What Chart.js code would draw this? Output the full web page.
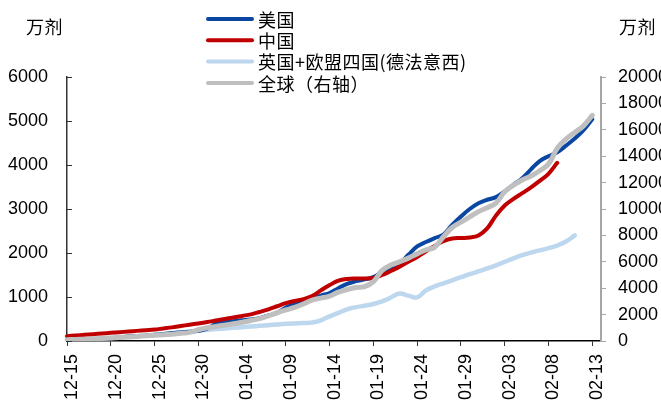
<!DOCTYPE html>
<html>
<head>
<meta charset="utf-8">
<script src="https://cdn.jsdelivr.net/npm/chart.js@4"></script>
<style>
  html, body { margin: 0; padding: 0; background: #fff; overflow: hidden; }
  #wrap { width: 661px; height: 403px; }
</style>
</head>
<body>
<div id="wrap"><canvas id="vacc" width="661" height="403"></canvas></div>
<script>
// days from 12-15 to 02-14
const dates = [
  '12-15','12-16','12-17','12-18','12-19','12-20','12-21','12-22','12-23','12-24',
  '12-25','12-26','12-27','12-28','12-29','12-30','12-31','01-01','01-02','01-03',
  '01-04','01-05','01-06','01-07','01-08','01-09','01-10','01-11','01-12','01-13',
  '01-14','01-15','01-16','01-17','01-18','01-19','01-20','01-21','01-22','01-23',
  '01-24','01-25','01-26','01-27','01-28','01-29','01-30','01-31','02-01','02-02',
  '02-03','02-04','02-05','02-06','02-07','02-08','02-09','02-10','02-11','02-12',
  '02-13','02-14'
];

// 万剂, left axis
const usDoses = [
  5, 10, 20, 30, 45, 60, 80, 100, 110, 120,
  140, 160, 180, 200, 210, 230, 280, 390, 430, 450,
  470, 490, 520, 580, 640, 760, 830, 900, 950, 1030,
  1090, 1200, 1300, 1360, 1400, 1450, 1560, 1650, 1760, 1960,
  2150, 2250, 2340, 2420, 2640, 2830, 3000, 3130, 3210, 3270,
  3400, 3550, 3700, 3900, 4090, 4200, 4290, 4440, 4600, 4790,
  5040
];
const chinaDoses = [
  110, 125, 140, 155, 170, 185, 200, 215, 230, 245,
  260, 285, 310, 340, 370, 400, 430, 465, 500, 535,
  570, 605, 660, 720, 790, 860, 910, 950, 1020, 1150,
  1270, 1370, 1410, 1420, 1420, 1430, 1500, 1590, 1690, 1800,
  1910, 2040, 2160, 2270, 2330, 2340, 2350, 2400, 2560, 2850,
  3080, 3230, 3360, 3490, 3640, 3800, 4050
];
const ukEu4Doses = [
  20, 30, 40, 50, 60, 70, 80, 95, 110, 125,
  140, 155, 170, 190, 210, 240, 255, 270, 285, 300,
  315, 330, 345, 360, 375, 390, 400, 410, 420, 470,
  560, 640, 720, 770, 800, 840, 900, 990, 1080, 1030,
  990, 1150, 1240, 1310, 1380, 1450, 1520, 1580, 1650, 1720,
  1800, 1880, 1950, 2010, 2060, 2110, 2170, 2260, 2400
];
// 万剂, right axis
const globalDoses = [
  100, 120, 140, 160, 190, 230, 270, 310, 350, 390,
  430, 470, 520, 580, 650, 850, 1000, 1100, 1200, 1300,
  1420, 1550, 1700, 1900, 2150, 2350, 2550, 2800, 3100, 3250,
  3400, 3700, 3900, 4050, 4120, 4500, 5350, 5750, 6000, 6280,
  6600, 6900, 7100, 7900, 8600, 9000, 9400, 9800, 10100, 10450,
  11300, 11800, 12200, 12500, 12900, 13400, 14600, 15300, 15800, 16300,
  17100
];

const seriesNames = ['美国', '中国', '英国+欧盟四国(德法意西)', '全球（右轴）'];
const seriesColors = ['#0a47a3', '#c00000', '#bdd7ee', '#bfbfbf'];

Chart.defaults.font.family = "'Liberation Sans', Arial, sans-serif";
Chart.defaults.font.size = 18;
Chart.defaults.color = '#000';

const cjkFont = "18px 'Noto Sans CJK SC', sans-serif";

// vertical legend and unit captions
const decorPlugin = {
  id: 'decor',
  afterDraw(chart) {
    const { ctx } = chart;
    ctx.save();
    ctx.font = cjkFont;
    ctx.fillStyle = '#000';
    ctx.textBaseline = 'middle';
    ctx.letterSpacing = '0.5px';
    ctx.fillText('万剂', 26, 27);
    ctx.fillText('万剂', 619, 27);
    seriesNames.forEach((name, i) => {
      const y = 19 + i * 21.3;
      ctx.strokeStyle = seriesColors[i];
      ctx.lineWidth = 4;
      ctx.lineCap = 'round';
      ctx.beginPath();
      ctx.moveTo(208, y);
      ctx.lineTo(252, y);
      ctx.stroke();
      ctx.fillText(name, 258, y + 1);
    });
    ctx.restore();
  },
};

// short ticks pointing into the plot on the left axis
const innerTicksPlugin = {
  id: 'innerTicks',
  afterDraw(chart) {
    const { ctx } = chart;
    const scale = chart.scales.y;
    ctx.save();
    ctx.strokeStyle = '#333';
    ctx.lineWidth = 1;
    scale.ticks.forEach((t, i) => {
      const y = Math.round(scale.getPixelForTick(i)) + 0.5;
      ctx.beginPath();
      ctx.moveTo(chart.chartArea.left, y);
      ctx.lineTo(chart.chartArea.left + 5, y);
      ctx.stroke();
    });
    ctx.restore();
  },
};

const line = (label, data, color, width, axis, order) => ({
  label, data, yAxisID: axis, order,
  borderColor: color, backgroundColor: color,
  borderWidth: width, pointRadius: 0, tension: 0.4,
  borderCapStyle: 'round', fill: false,
});

const plain = (v) => String(v);

new Chart(document.getElementById('vacc'), {
  type: 'line',
  data: {
    labels: dates,
    datasets: [
      line(seriesNames[0], usDoses, seriesColors[0], 4, 'y', 2),
      line(seriesNames[1], chinaDoses, seriesColors[1], 4, 'y', 1),
      line(seriesNames[2], ukEu4Doses, seriesColors[2], 4.5, 'y', 3),
      line(seriesNames[3], globalDoses, seriesColors[3], 5, 'y2', 0),
    ],
  },
  options: {
    responsive: false,
    animation: false,
    layout: { padding: { top: 77, left: 0, right: 0, bottom: 0 } },
    plugins: { legend: { display: false }, tooltip: { enabled: false } },
    scales: {
      x: {
        type: 'category',
        offset: false,
        afterFit: (s) => { s.height = 62; },
        border: { color: '#000', width: 1.5 },
        grid: {
          drawOnChartArea: false,
          tickLength: 5,
          tickColor: (c) => (c.index % 5 === 0 ? '#333' : 'rgba(0,0,0,0)'),
        },
        ticks: {
          autoSkip: false,
          minRotation: 90,
          maxRotation: 90,
          padding: 8,
          labelOffset: 5,
          callback: (v, i) => (i % 5 === 0 ? dates[i] : ''),
        },
      },
      y: {
        position: 'left',
        min: 0,
        max: 6000,
        afterFit: (s) => { s.width = 67; },
        border: { color: '#333', width: 1.5 },
        grid: { drawOnChartArea: false, drawTicks: false },
        ticks: { stepSize: 1000, padding: 19, callback: plain },
      },
      y2: {
        position: 'right',
        min: 0,
        max: 20000,
        afterFit: (s) => { s.width = 60; },
        border: { color: '#a6a6a6', width: 2 },
        grid: { drawOnChartArea: false, tickLength: 5, tickColor: '#a6a6a6' },
        ticks: { stepSize: 2000, padding: 12, callback: plain },
      },
    },
  },
  plugins: [decorPlugin, innerTicksPlugin],
});
</script>
</body>
</html>
